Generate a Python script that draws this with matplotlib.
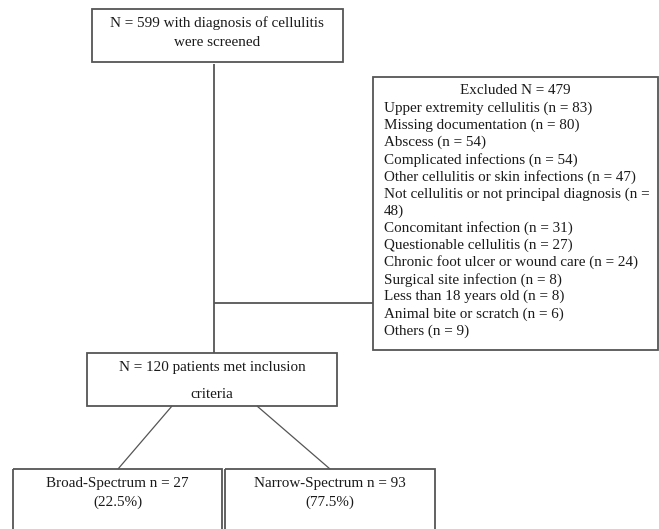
import matplotlib.pyplot as plt
from matplotlib.patches import Rectangle

# flow counts
n_screened = 599
n_excluded = 479
n_included = 120
exclusion_reasons = [
    "Upper extremity cellulitis",
    "Missing documentation",
    "Abscess",
    "Complicated infections",
    "Other cellulitis or skin infections",
    "Not cellulitis or not principal diagnosis",
    "Concomitant infection",
    "Questionable cellulitis",
    "Chronic foot ulcer or wound care",
    "Surgical site infection",
    "Less than 18 years old",
    "Animal bite or scratch",
    "Others",
]
exclusion_counts = [83, 80, 54, 54, 47, 48, 31, 27, 24, 8, 8, 6, 9]
arm_names = ["Broad-Spectrum", "Narrow-Spectrum"]
arm_counts = [27, 93]

W, H = 659, 529
fig = plt.figure(figsize=(W / 100, H / 100), dpi=100)
ax = fig.add_axes([0, 0, 1, 1])
ax.set_xlim(0, W)
ax.set_ylim(H, 0)
ax.axis('off')

EDGE = '#555555'
TXT = '#1a1a1a'
FONT = 'Liberation Serif'
FS = 10.9


def box(x0, y0, x1, y1):
    ax.add_patch(Rectangle((x0, y0), x1 - x0, y1 - y0, fill=False,
                           edgecolor=EDGE, linewidth=1.3, clip_on=True))


def line(xs, ys, lw=1.3):
    ax.plot(xs, ys, color=EDGE, linewidth=lw, solid_capstyle='butt')


def label(x, y, s, ha='center'):
    ax.text(x, y, s, ha=ha, va='center', fontsize=FS, family=FONT, color=TXT)


# screened box
box(92, 9, 343, 62)
label(217, 23, f"N = {n_screened} with diagnosis of cellulitis")
label(217, 42, "were screened")

# trunk and branch to excluded
line([214, 214], [64, 353])
line([214, 373], [303, 303])

# excluded box
box(373, 77, 658, 350)
rows = [f"{r} (n = {c})" for r, c in zip(exclusion_reasons, exclusion_counts)]
wrapped = []
for r in rows:
    if len(r) > 46:
        wrapped += [r[:r.rfind('=') + 1], r[r.rfind('=') + 2:]]
    else:
        wrapped.append(r)
step = (331 - 91) / len(wrapped)
label(515, 91, f"Excluded N = {n_excluded}")
for i, r in enumerate(wrapped):
    label(384, 91 + step * (i + 1), r, ha='left')

# included box
box(87, 353, 337, 406)
label(212, 368, f"N = {n_included} patients met inclusion")
label(212, 395, "criteria")

# split lines
line([172, 118], [406, 469], lw=0.9)
line([257, 330], [406, 469], lw=0.9)

# arm boxes
for (x0, x1), name, c in zip([(13, 222), (225, 435)], arm_names, arm_counts):
    box(x0, 469, x1, 545)
    cx = (x0 + x1) / 2
    label(cx, 483, f"{name} n = {c}")
    label(cx, 502, f"({c / n_included * 100:.1f}%)")

fig.savefig('out.png', dpi=100, facecolor='white')
